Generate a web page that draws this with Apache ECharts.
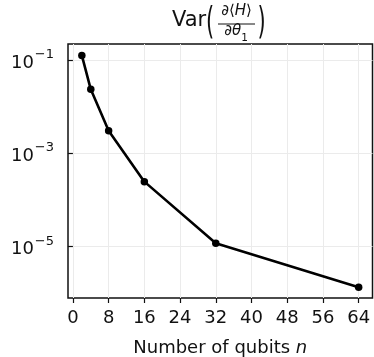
<!DOCTYPE html>
<html>
<head>
<meta charset="utf-8">
<script src="https://cdn.jsdelivr.net/npm/echarts@6/dist/echarts.min.js"></script>
<style>
  html, body { margin: 0; padding: 0; background: #fff; }
  #chart { width: 374px; height: 357px; }
</style>
</head>
<body>
<div id="chart"></div>
<script>
// 数据
var qubits = [2, 4, 8, 16, 32, 64];
var variance = [0.126, 0.0236, 0.00306, 2.48e-4, 1.18e-5, 1.35e-6];
var xTicks = [0, 8, 16, 24, 32, 40, 48, 56, 64];
var yTicks = [1e-1, 1e-3, 1e-5];

var FONT = 'DejaVu Sans';
var INK = '#111';
var GRIDC = '#ebebeb';

var chart = echarts.init(document.getElementById('chart'));

var points = [];
for (var i = 0; i < qubits.length; ++i) {
	points.push([qubits[i], variance[i]]);
}

var option = {
	backgroundColor: '#fff',
	animation: false,
	grid: {
		left: 68, top: 44, right: 1.5, bottom: 59,
		outerBoundsMode: 'none',
		show: true, borderColor: '#111', borderWidth: 1.5,
		backgroundColor: 'transparent'
	},
	xAxis: {
		type: 'value',
		min: -1.1, max: 67.1,
		axisLine: { show: false },
		axisTick: { show: true, length: 5, lineStyle: { color: INK, width: 1.2 }, customValues: xTicks },
		axisLabel: {
			customValues: xTicks, margin: 11,
			fontFamily: FONT, fontSize: 18, color: INK
		},
		splitLine: { show: true, lineStyle: { color: GRIDC, width: 1 } },
		name: 'Number of qubits {i|n}',
		nameLocation: 'middle',
		nameGap: 41,
		nameTextStyle: {
			fontFamily: FONT, fontSize: 18, color: INK,
			rich: { i: { fontFamily: FONT, fontSize: 18, fontStyle: 'italic', color: INK } }
		}
	},
	yAxis: {
		type: 'log',
		logBase: 10,
		min: Math.pow(10, -6.1),
		max: Math.pow(10, -0.655),
		axisLine: { show: false },
		axisTick: { show: true, length: 5, lineStyle: { color: INK, width: 1.2 }, customValues: yTicks },
		axisLabel: {
			customValues: yTicks, margin: 14,
			formatter: function (v) {
				var e = Math.round(Math.log10(v));
				return '{b|10}{s|\u2212' + Math.abs(e) + '}';
			},
			rich: {
				b: { fontFamily: FONT, fontSize: 18, color: INK, lineHeight: 24, verticalAlign: 'bottom' },
				s: { fontFamily: FONT, fontSize: 13, color: INK, lineHeight: 24, verticalAlign: 'top', padding: [0, 0, 0, 1] }
			}
		},
		splitLine: { show: true, lineStyle: { color: GRIDC, width: 1 } },
		minorTick: { show: false }
	},
	// 标题: Var(∂<H>/∂θ1)
	graphic: [
		{ type: 'text', left: 172, top: 10, style: { text: 'Var', font: '21px "DejaVu Sans"', fill: INK } },
		{ type: 'text', x: 206, y: 24.5, scaleY: 1.8, style: { text: '(', font: '21px "DejaVu Sans"', fill: INK, verticalAlign: 'middle' } },
		{ type: 'text', x: 236.5, y: 11, style: { text: '{d|\u2202\u27e8}{i|H}{d|\u27e9}', fill: INK, align: 'center', verticalAlign: 'middle',
			rich: { d: { fontFamily: FONT, fontSize: 15, fill: INK }, i: { fontFamily: FONT, fontSize: 15, fontStyle: 'italic', fill: INK } } } },
		{ type: 'line', shape: { x1: 218, y1: 24, x2: 255, y2: 24 }, style: { stroke: INK, lineWidth: 1 } },
		{ type: 'text', x: 236, y: 33.5, style: { text: '{d|\u2202}{i|\u03b8}{s|1}', fill: INK, align: 'center', verticalAlign: 'middle',
			rich: { d: { fontFamily: FONT, fontSize: 15, fill: INK, verticalAlign: 'top', lineHeight: 17 },
				i: { fontFamily: FONT, fontSize: 15, fontStyle: 'italic', fill: INK, verticalAlign: 'top', lineHeight: 17 },
				s: { fontFamily: FONT, fontSize: 10.5, fill: INK, verticalAlign: 'bottom', lineHeight: 20 } } } },
		{ type: 'text', x: 257.5, y: 24.5, scaleY: 1.8, style: { text: ')', font: '21px "DejaVu Sans"', fill: INK, verticalAlign: 'middle' } }
	],
	series: [{
		type: 'line',
		data: points,
		symbol: 'circle',
		symbolSize: 7.5,
		lineStyle: { color: '#000', width: 2.6 },
		itemStyle: { color: '#000' },
		z: 5
	}]
};
chart.setOption(option);
</script>
</body>
</html>
